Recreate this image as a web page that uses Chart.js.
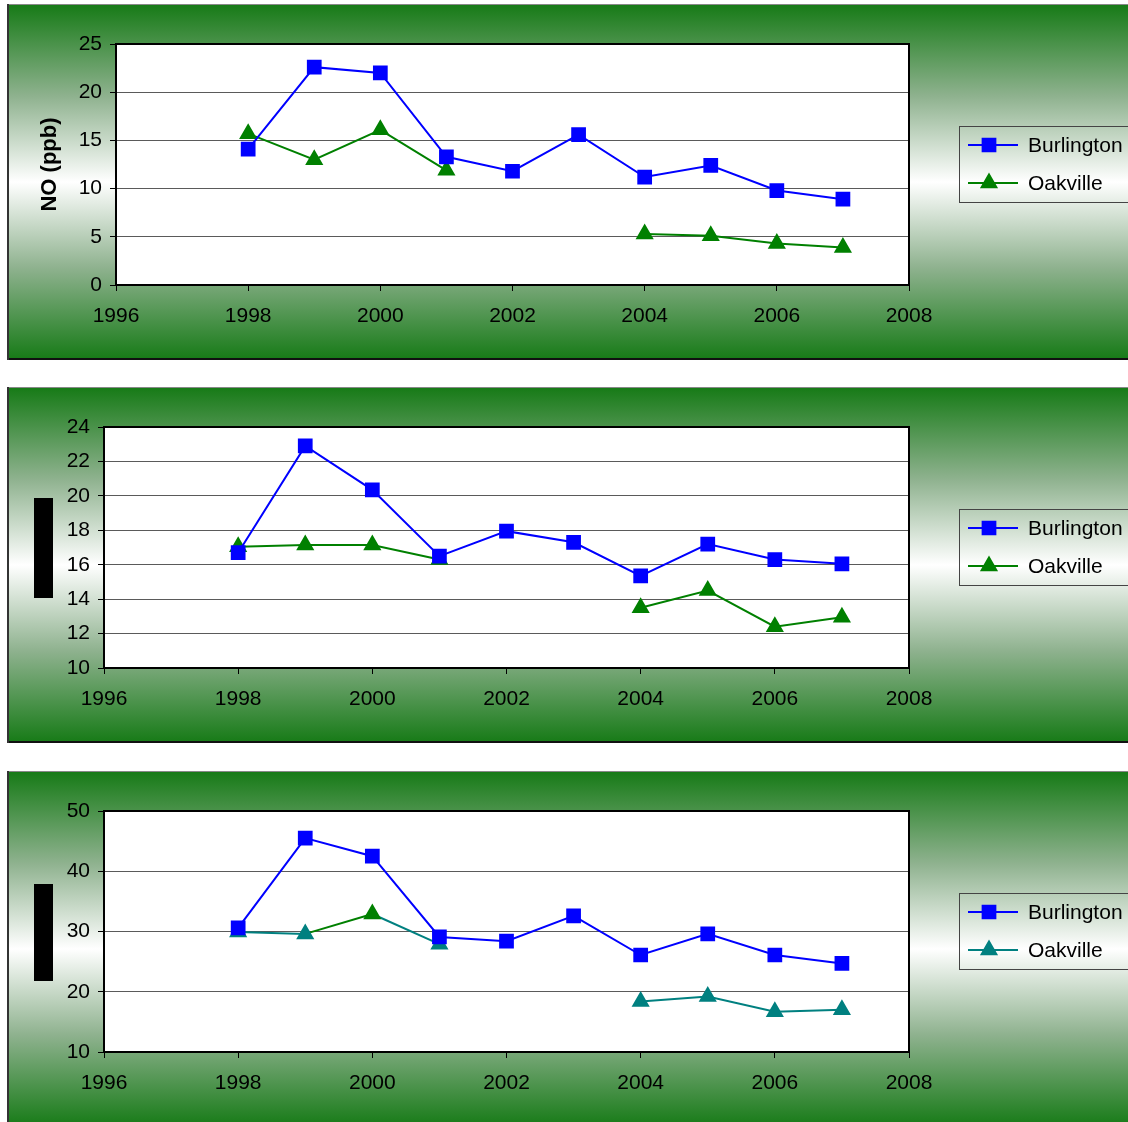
<!DOCTYPE html>
<html>
<head>
<meta charset="utf-8">
<script src="https://cdn.jsdelivr.net/npm/chart.js@4/dist/chart.umd.min.js"></script>
<style>
  html, body { margin: 0; padding: 0; background: #fff; overflow: hidden; width: 1128px; height: 1122px; }
  .panel {
    position: absolute; left: 7px; width: 1121px; height: 356px;
    background: linear-gradient(to bottom, #167a16 0%, #8fb28f 26%, #ffffff 50%, #8fb28f 74%, #167a16 100%);
    box-shadow: inset 2px 0 0 #333, inset 0 1px 0 #888, inset 0 -2px 0 #111;
  }
  .panel canvas { position: absolute; left: 0; top: 0; }
  .blk { position: absolute; left: 27px; width: 19px; background: #000; }
</style>
</head>
<body>
<div class="panel" style="top:4px;"><canvas id="chartNO" width="1121" height="356"></canvas></div>
<div class="panel" style="top:387px;"><canvas id="chartB" width="1121" height="356"></canvas><div class="blk" style="top:111px;height:100px;"></div></div>
<div class="panel" style="top:771px;"><canvas id="chartC" width="1121" height="356"></canvas><div class="blk" style="top:113px;height:97px;"></div></div>
<script>
// ===== DATA =====
var years = [1998, 1999, 2000, 2001, 2002, 2003, 2004, 2005, 2006, 2007];
var xTicks = [1996, 1998, 2000, 2002, 2004, 2006, 2008];
var seriesNames = ['Burlington', 'Oakville'];

var burlingtonNO = [14.1, 22.6, 22.0, 13.3, 11.8, 15.6, 11.2, 12.4, 9.8, 8.9];
var oakvilleNO   = [15.7, 13.0, 16.1, 11.9, null, null, 5.3, 5.1, 4.3, 3.9];

var burlingtonB = [16.7, 22.9, 20.35, 16.5, 17.95, 17.3, 15.35, 17.2, 16.3, 16.05];
var oakvilleB   = [17.05, 17.15, 17.15, 16.3, null, null, 13.5, 14.5, 12.4, 12.95];

var burlingtonC = [30.6, 45.5, 42.5, 29.1, 28.4, 32.6, 26.1, 29.6, 26.1, 24.7];
var oakvilleC   = [29.9, 29.6, 32.9, 27.9, null, null, 18.4, 19.2, 16.7, 17.0];

var FONT = '"Liberation Sans", Arial, sans-serif';
var BLUE = '#0000ff', GREEN = '#008000', TEAL = '#008080';

function points(vals) {
  return years.map(function(y, i) { return { x: y, y: vals[i] }; });
}

// ===== PLUGINS =====
var plotFrame = {
  id: 'plotFrame',
  beforeDraw: function(chart) {
    var a = chart.chartArea, ctx = chart.ctx;
    ctx.save();
    ctx.fillStyle = '#fff';
    ctx.fillRect(a.left, a.top, a.right - a.left, a.bottom - a.top);
    ctx.restore();
  },
  afterDatasetsDraw: function(chart) {
    var a = chart.chartArea, ctx = chart.ctx;
    ctx.save();
    ctx.strokeStyle = '#000';
    ctx.lineWidth = 2;
    ctx.strokeRect(a.left, a.top, a.right - a.left, a.bottom - a.top);
    ctx.restore();
  }
};

var boxLegend = {
  id: 'boxLegend',
  afterDraw: function(chart) {
    var ctx = chart.ctx;
    var bx = 952, by = 122, bh = 76;
    ctx.save();
    ctx.strokeStyle = '#444';
    ctx.lineWidth = 1;
    ctx.strokeRect(bx + 0.5, by + 0.5, 300, bh);
    chart.data.datasets.forEach(function(ds, i) {
      var cy = 141 + i * 38;
      ctx.strokeStyle = ds.borderColor;
      ctx.lineWidth = 2;
      ctx.beginPath();
      ctx.moveTo(961, cy);
      ctx.lineTo(1011, cy);
      ctx.stroke();
      ctx.fillStyle = ds.borderColor;
      Chart.helpers.drawPoint(ctx, { pointStyle: ds.pointStyle, radius: ds.pointRadius, borderWidth: 1, rotation: 0 }, 982, cy);
      ctx.fillStyle = '#000';
      ctx.font = '21px ' + FONT;
      ctx.textBaseline = 'middle';
      ctx.fillText(ds.label, 1021, cy + 1);
    });
    ctx.restore();
  }
};

// ===== CHART BUILDER =====
function makeChart(id, burl, oak, yMin, yMax, yStep, yTitle, oakColors) {
  var oakLine = oakColors ? oakColors.line : GREEN;
  var padLeft = yTitle ? 30 : 37;
  var yWidth = yTitle ? 79 : 60;
  return new Chart(document.getElementById(id), {
    type: 'line',
    data: {
      datasets: [{
        label: seriesNames[0],
        data: points(burl),
        borderColor: BLUE,
        backgroundColor: BLUE,
        pointBackgroundColor: BLUE,
        pointBorderColor: BLUE,
        pointStyle: 'rect',
        pointRadius: 9,
        borderWidth: 2,
        tension: 0
      }, {
        label: seriesNames[1],
        data: points(oak),
        borderColor: oakLine,
        backgroundColor: oakLine,
        pointBackgroundColor: oakColors ? oakColors.points : GREEN,
        pointBorderColor: oakColors ? oakColors.points : GREEN,
        pointStyle: 'triangle',
        pointRadius: 8.5,
        borderWidth: 2,
        tension: 0,
        spanGaps: false,
        segment: oakColors ? { borderColor: oakColors.segment } : undefined
      }]
    },
    options: {
      responsive: false,
      animation: false,
      layout: { padding: { left: padLeft, right: 219, top: 40, bottom: 0 } },
      plugins: { legend: { display: false }, tooltip: { enabled: false } },
      scales: {
        x: {
          type: 'linear',
          min: xTicks[0],
          max: xTicks[xTicks.length - 1],
          afterBuildTicks: function(s) { s.ticks = xTicks.map(function(v) { return { value: v }; }); },
          afterFit: function(s) { s.height = 75; },
          grid: { drawOnChartArea: false, tickLength: 6, tickColor: '#000' },
          border: { color: '#000', width: 2 },
          ticks: { color: '#000', font: { family: FONT, size: 21 }, padding: 13, maxRotation: 0,
                   callback: function(v) { return String(v); } }
        },
        y: {
          min: yMin,
          max: yMax,
          afterFit: function(s) { s.width = yWidth; },
          grid: { color: '#5a5a5a', lineWidth: 1, tickLength: 6, tickColor: '#000' },
          border: { color: '#000', width: 2 },
          ticks: { stepSize: yStep, color: '#000', font: { family: FONT, size: 21 }, padding: 8 },
          title: { display: !!yTitle, text: yTitle || '', color: '#000', font: { family: FONT, size: 22, weight: 'bold' }, padding: 0 }
        }
      }
    },
    plugins: [plotFrame, boxLegend]
  });
}

window.onload = function() {
  makeChart('chartNO', burlingtonNO, oakvilleNO, 0, 25, 5, 'NO (ppb)', null);
  makeChart('chartB', burlingtonB, oakvilleB, 10, 24, 2, null, null);
  makeChart('chartC', burlingtonC, oakvilleC, 10, 50, 10, null, {
    line: TEAL,
    points: years.map(function(y) { return y === 2000 ? GREEN : TEAL; }),
    segment: function(ctx) { return years[ctx.p1DataIndex] === 2000 ? GREEN : TEAL; }
  });
};
</script>
</body>
</html>
